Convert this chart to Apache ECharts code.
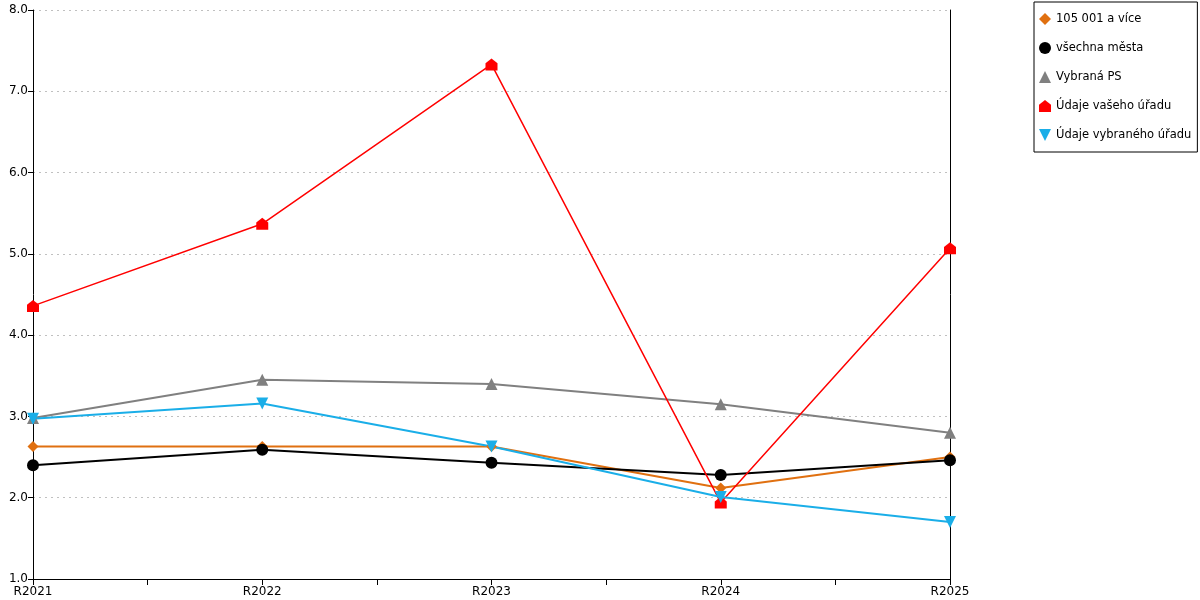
<!DOCTYPE html>
<html>
<head>
<meta charset="utf-8">
<script src="https://cdn.jsdelivr.net/npm/echarts@6/dist/echarts.min.js"></script>
<style>
html,body{margin:0;padding:0;background:#fff;}
#main{width:1200px;height:600px;}
</style>
</head>
<body>
<div id="main"></div>
<script>
// kategorie a hodnoty
var categories = ['R2021', 'R2022', 'R2023', 'R2024', 'R2025'];
var names = ['105 001 a více', 'všechna města', 'Vybraná PS', 'Údaje vašeho úřadu', 'Údaje vybraného úřadu'];
var vals105 = [2.63, 2.63, 2.63, 2.12, 2.50];
var valsMesta = [2.40, 2.59, 2.43, 2.28, 2.46];
var valsPS = [2.98, 3.45, 3.40, 3.15, 2.80];
var valsVas = [4.36, 5.37, 7.33, 1.94, 5.07];
var valsVybrany = [2.97, 3.16, 2.63, 2.01, 1.70];
var yTicks = [1, 2, 3, 4, 5, 6, 7, 8];

var chart = echarts.init(document.getElementById('main'));
var houseIcon = 'path://M5,0 L10,4 L10,10 L0,10 L0,4 Z';
var downIcon = 'path://M0,0 L10,0 L5,10 Z';

function pairs(arr){
    return arr.map(function(v, i){ return [i, v]; });
}
function serie(name, data, color, symbol, size, width){
    return {
        name: name,
        type: 'line',
        data: pairs(data),
        symbol: symbol,
        symbolSize: size,
        showSymbol: true,
        itemStyle: {color: color},
        lineStyle: {color: color, width: width},
        emphasis: {disabled: true}
    };
}

var font = 'DejaVu Sans';
chart.setOption({
    animation: false,
    textStyle: {fontFamily: font},
    grid: {left: 33, right: 250, top: 10, bottom: 21},
    legend: {
        orient: 'vertical',
        left: 1034,
        top: 2,
        padding: [11, 6, 11, 5],
        itemGap: 17,
        itemWidth: 12,
        itemHeight: 12,
        borderColor: '#000',
        borderWidth: 1,
        textStyle: {fontFamily: font, fontSize: 11.5, color: '#000'},
        data: [
            {name: names[0], icon: 'diamond'},
            {name: names[1], icon: 'circle'},
            {name: names[2], icon: 'triangle'},
            {name: names[3], icon: houseIcon},
            {name: names[4], icon: downIcon}
        ]
    },
    xAxis: {
        type: 'value',
        min: 0,
        max: categories.length - 1,
        interval: 0.5,
        axisLine: {lineStyle: {color: '#000', width: 1}},
        axisTick: {show: true, length: 6, lineStyle: {color: '#000'}},
        axisLabel: {
            color: '#000', fontSize: 12, margin: 7,
            formatter: function(v){ return Number.isInteger(v) ? categories[v] : ''; }
        },
        splitLine: {show: false}
    },
    yAxis: [{
        type: 'value',
        min: yTicks[0],
        max: yTicks[yTicks.length - 1],
        interval: 1,
        axisLine: {show: true, lineStyle: {color: '#000', width: 1}},
        axisTick: {show: true, length: 5, lineStyle: {color: '#000'}},
        axisLabel: {color: '#000', fontSize: 12, margin: 5, formatter: function(v){ return v.toFixed(1); }},
        splitLine: {show: true, lineStyle: {color: '#c0c0c0', type: [2, 4], width: 1}}
    }, {
        type: 'value',
        position: 'right',
        min: yTicks[0],
        max: yTicks[yTicks.length - 1],
        interval: 1,
        axisLine: {show: true, lineStyle: {color: '#000', width: 1}},
        axisTick: {show: false},
        axisLabel: {show: false},
        splitLine: {show: false}
    }],
    series: [
        serie(names[0], vals105, '#e07010', 'diamond', 11, 2),
        serie(names[1], valsMesta, '#000', 'circle', 12, 2),
        serie(names[2], valsPS, '#808080', 'triangle', 12, 2),
        serie(names[3], valsVas, '#ff0000', houseIcon, 12, 1.5),
        serie(names[4], valsVybrany, '#1aaee8', downIcon, 12, 2)
    ]
});
</script>
</body>
</html>
